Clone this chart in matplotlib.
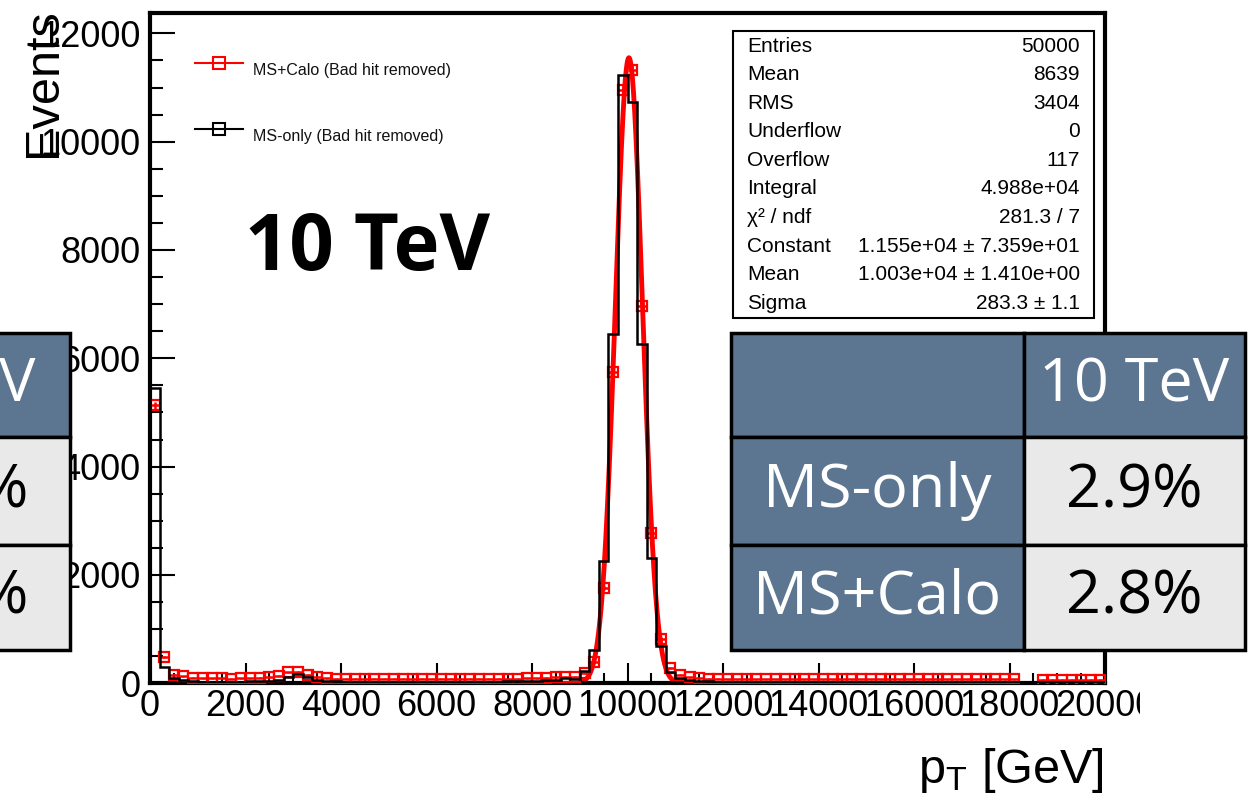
import numpy as np
import matplotlib
matplotlib.use("Agg")
import matplotlib.pyplot as plt
from matplotlib.patches import Rectangle
from matplotlib.lines import Line2D

# ---------------- data ----------------
bin_edges = np.arange(0, 20001, 200)

ms_only = [5460, 300, 100, 55, 35, 30, 30, 25, 30, 30, 35, 40, 50, 70, 120, 170, 120, 70, 40, 35,
           30, 30, 30, 30, 30, 30, 30, 30, 30, 30, 30, 30, 30, 30, 30, 30, 30, 35, 35, 35,
           45, 55, 60, 90, 80, 225, 620, 2250, 6450, 11240, 10740, 6260, 2310, 680, 200, 100, 60, 45, 35, 30,
           30, 30, 30, 30, 30, 30, 30, 30, 30, 30, 30, 30, 30, 30, 30, 30, 30, 30, 30, 30,
           30, 30, 30, 30, 30, 30, 30, 30, 30, 30, 30, 25, 25, 30, 30, 30, 30, 30, 30, 30]

ms_calo = [5130, 490, 160, 130, 100, 95, 90, 90, 85, 90, 95, 100, 110, 140, 200, 210, 160, 120, 90, 85,
           80, 80, 80, 80, 80, 80, 80, 80, 80, 80, 80, 80, 80, 80, 80, 80, 85, 85, 85, 90,
           95, 100, 110, 120, 125, 185, 400, 1760, 5750, 10950, 11320, 6970, 2780, 820, 290, 160, 110, 95, 85, 80,
           75, 75, 75, 75, 75, 75, 75, 75, 75, 75, 75, 75, 75, 75, 75, 75, 75, 75, 75, 75,
           75, 75, 75, 75, 75, 75, 75, 75, 75, 75, 75, 0, 0, 70, 70, 70, 70, 70, 70, 70]

fit_constant = 1.155e4
fit_mean = 1.003e4
fit_sigma = 283.3
fit_range = (9000, 11000)

legend_labels = ["MS+Calo (Bad hit removed)", "MS-only (Bad hit removed)"]

stats_labels = ["Entries", "Mean", "RMS", "Underflow", "Overflow", "Integral",
                "\u03c7\u00b2 / ndf", "Constant", "Mean", "Sigma"]
stats_values = ["50000", "8639", "3404", "0", "117", "4.988e+04", "281.3 / 7",
                "1.155e+04 \u00b1 7.359e+01", "1.003e+04 \u00b1 1.410e+00", "283.3 \u00b1 1.1"]

table_header = ["", "10 TeV"]
table_rows = ["MS-only", "MS+Calo"]
table_values = ["2.9%", "2.8%"]
left_table_header = "V"
left_table_values = ["%", "%"]

energy_label = "10 TeV"

# ---------------- style ----------------
plt.rcParams["font.family"] = ["Liberation Sans", "DejaVu Sans"]
plt.rcParams["mathtext.fontset"] = "custom"
plt.rcParams["mathtext.rm"] = "Liberation Sans"
plt.rcParams["mathtext.it"] = "Liberation Sans:italic"

W, H = 1256, 802
fig = plt.figure(figsize=(W / 100, H / 100), dpi=100)
fig.patch.set_facecolor("white")

x0, x1 = 150, 1105
ytop, ybot = 13.3, 683.3
ax = fig.add_axes([x0 / W, (H - ybot) / H, (x1 - x0) / W, (ybot - ytop) / H])
ax.set_xlim(0, 20000)
ax.set_ylim(0, 12370)

for s in ax.spines.values():
    s.set_linewidth(3)

ax.set_xticks(np.arange(0, 20001, 2000))
ax.set_xticks(np.arange(0, 20001, 500), minor=True)
ax.set_yticks(np.arange(0, 12001, 2000))
ax.set_yticks(np.arange(0, 12001, 500), minor=True)
ax.tick_params(axis="both", which="both", direction="in", top=False, right=False,
               width=1.5, labelsize=26)
ax.tick_params(axis="x", which="major", length=14.4, pad=4)
ax.tick_params(axis="x", which="minor", length=7.2)
ax.tick_params(axis="y", which="major", length=18, pad=7)
ax.tick_params(axis="y", which="minor", length=9.4)

centers = 0.5 * (bin_edges[:-1] + bin_edges[1:])
calo = np.array(ms_calo, dtype=float)
mask = calo > 0

# fit curve
xf = np.linspace(fit_range[0], fit_range[1], 500)
yf = fit_constant * np.exp(-0.5 * ((xf - fit_mean) / fit_sigma) ** 2)
ax.plot(xf, yf, color="red", lw=3.5, zorder=2, solid_capstyle="round")

# MS+Calo points
ax.errorbar(centers[mask], calo[mask], xerr=100, yerr=np.sqrt(calo[mask]),
            fmt="s", color="red", mfc="none", mec="red", ms=7.5, mew=1.6,
            elinewidth=1.8, capsize=0, zorder=3)

# MS-only histogram
ax.stairs(ms_only, bin_edges, color="black", lw=1.8, zorder=4)

ax.set_ylabel("Events", fontsize=35, loc="top")
ax.yaxis.set_label_coords(-0.088, 1.007)
ax.set_xlabel(r"p$_{\mathrm{T}}$ [GeV]", fontsize=35, loc="right")
ax.xaxis.set_label_coords(0.9985, -0.093)

# ---------------- overlay (pixel coordinates) ----------------
ov = fig.add_axes([0, 0, 1, 1], zorder=10)
ov.set_xlim(0, W)
ov.set_ylim(H, 0)
ov.axis("off")
ov.patch.set_alpha(0)

# legend
leg_y = [63, 129]
leg_colors = ["red", "black"]
for yy, c, lab in zip(leg_y, leg_colors, legend_labels):
    ov.add_line(Line2D([195, 243], [yy, yy], color=c, lw=1.5))
    ov.add_line(Line2D([219], [yy], color=c, marker="s", ms=8, mfc="none", mew=1.5))
    ov.text(253, yy + 7, lab, fontsize=11.5, ha="left", va="center", color="#111111")

# big energy label
ov.text(245, 270, energy_label, fontsize=56, fontweight="bold", family="Open Sans",
        ha="left", va="baseline", color="black")

# stats box
ov.add_patch(Rectangle((733, 31), 1094 - 733, 318 - 31, facecolor="white",
                       edgecolor="black", lw=1.5))
for i, (lab, val) in enumerate(zip(stats_labels, stats_values)):
    yy = 46 + i * 28.6
    ov.text(747, yy, lab, fontsize=15, ha="left", va="center")
    ov.text(1080, yy, val, fontsize=15, ha="right", va="center")

dark = "#5c7691"
light = "#e9e9e9"
row_edges = [333, 437, 545, 650]

# right table
col_edges = [731, 1024, 1245]
for r in range(3):
    for c in range(2):
        fc = dark if (r == 0 or c == 0) else light
        ov.add_patch(Rectangle((col_edges[c], row_edges[r]), col_edges[c + 1] - col_edges[c],
                               row_edges[r + 1] - row_edges[r], facecolor=fc,
                               edgecolor="black", lw=2.5))
cx = [(col_edges[0] + col_edges[1]) / 2, (col_edges[1] + col_edges[2]) / 2]
ry = [(row_edges[i] + row_edges[i + 1]) / 2 for i in range(3)]
ov.text(cx[1], ry[0], table_header[1], fontsize=44, family="Open Sans", color="white",
        ha="center", va="center")
for i in range(2):
    ov.text(cx[0], ry[i + 1], table_rows[i], fontsize=44, family="Open Sans", color="white",
            ha="center", va="center")
    ov.text(cx[1], ry[i + 1], table_values[i], fontsize=44, family="Open Sans", color="black",
            ha="center", va="center")

# left (cropped) table
for r in range(3):
    fc = dark if r == 0 else light
    ov.add_patch(Rectangle((-300, row_edges[r]), 370, row_edges[r + 1] - row_edges[r],
                           facecolor=fc, edgecolor="black", lw=2.5))
ov.text(17, ry[0], left_table_header, fontsize=44, family="Open Sans", color="white",
        ha="center", va="center")
for i in range(2):
    ov.text(28, ry[i + 1], left_table_values[i], fontsize=44, family="Open Sans",
            color="black", ha="right", va="center")

# cropped region at right of x tick labels
ov.add_patch(Rectangle((1140, 688), W - 1140, 60, facecolor="white", edgecolor="none"))

fig.savefig("out.png", dpi=100)
